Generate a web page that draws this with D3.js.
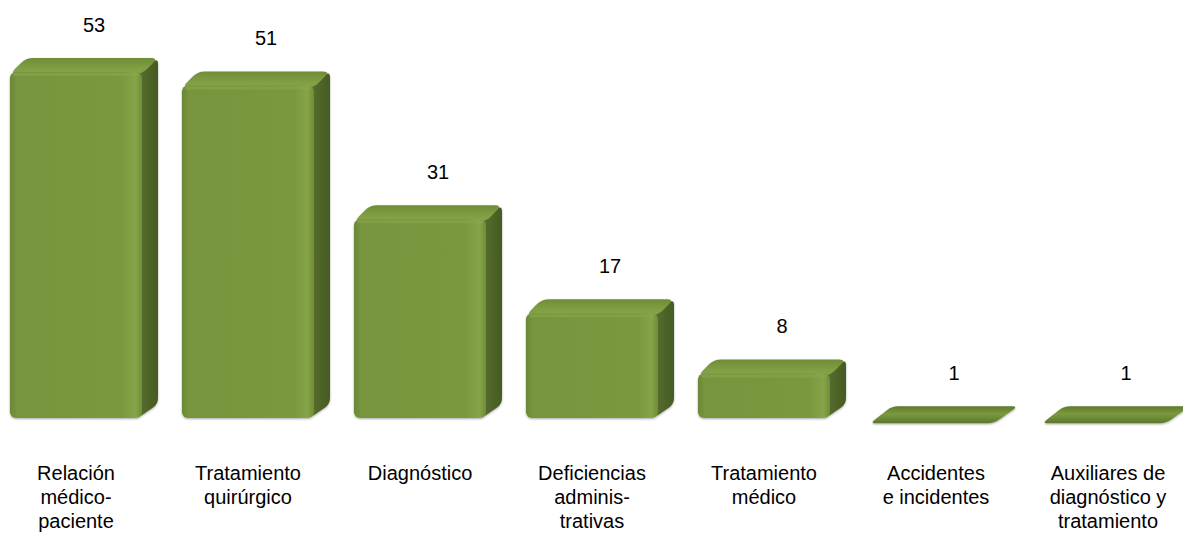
<!DOCTYPE html>
<html>
<head>
<meta charset="utf-8">
<script src="https://cdn.jsdelivr.net/npm/d3@7"></script>
<style>
  html, body { margin: 0; padding: 0; background: #fff; }
  svg { display: block; }
  text { font-family: "Liberation Sans", Arial, sans-serif; fill: #000; }
</style>
</head>
<body>
<div id="chart"></div>
<script>
"use strict"

// chart data
let categories = [
  "Relación médico-paciente",
  "Tratamiento quirúrgico",
  "Diagnóstico",
  "Deficiencias adminis-trativas",
  "Tratamiento médico",
  "Accidentes e incidentes",
  "Auxiliares de diagnóstico y tratamiento"
];
let categoryLines = [
  ["Relación", "médico-", "paciente"],
  ["Tratamiento", "quirúrgico"],
  ["Diagnóstico"],
  ["Deficiencias", "adminis-", "trativas"],
  ["Tratamiento", "médico"],
  ["Accidentes", "e incidentes"],
  ["Auxiliares de", "diagnóstico y", "tratamiento"]
];
let values = [53, 51, 31, 17, 8, 1, 1];

let width = 1183, height = 533;
let depthX = 16, depthY = 14;
let floorY = 418;

let svg = d3.select("#chart").append("svg")
  .attr("width", width)
  .attr("height", height);

let defs = svg.append("defs");

let frontGrad = defs.append("linearGradient")
  .attr("id", "frontGrad")
  .attr("x1", "0%").attr("x2", "100%").attr("y1", "0%").attr("y2", "0%");
frontGrad.append("stop").attr("offset", "0%").attr("stop-color", "#6a8734");
frontGrad.append("stop").attr("offset", "5%").attr("stop-color", "#77953c");
frontGrad.append("stop").attr("offset", "85%").attr("stop-color", "#7a983e");
frontGrad.append("stop").attr("offset", "95%").attr("stop-color", "#86a548");
frontGrad.append("stop").attr("offset", "100%").attr("stop-color", "#6f8c37");

let topGrad = defs.append("linearGradient")
  .attr("id", "topGrad")
  .attr("x1", "0%").attr("x2", "0%").attr("y1", "0%").attr("y2", "100%");
topGrad.append("stop").attr("offset", "0%").attr("stop-color", "#6f8c38");
topGrad.append("stop").attr("offset", "60%").attr("stop-color", "#7f9e42");
topGrad.append("stop").attr("offset", "100%").attr("stop-color", "#87a64a");

let sideGrad = defs.append("linearGradient")
  .attr("id", "sideGrad")
  .attr("x1", "0%").attr("x2", "100%").attr("y1", "0%").attr("y2", "0%");
sideGrad.append("stop").attr("offset", "0%").attr("stop-color", "#587030");
sideGrad.append("stop").attr("offset", "100%").attr("stop-color", "#465a22");

let flatGrad = defs.append("linearGradient")
  .attr("id", "flatGrad")
  .attr("x1", "0%").attr("x2", "0%").attr("y1", "0%").attr("y2", "100%");
flatGrad.append("stop").attr("offset", "0%").attr("stop-color", "#5f7a2e");
flatGrad.append("stop").attr("offset", "45%").attr("stop-color", "#7a9a3e");
flatGrad.append("stop").attr("offset", "100%").attr("stop-color", "#5d772c");

let shadow = defs.append("filter")
  .attr("id", "shadow")
  .attr("x", "-10%").attr("y", "-10%").attr("width", "120%").attr("height", "120%");
shadow.append("feGaussianBlur").attr("in", "SourceAlpha").attr("stdDeviation", 1.2).attr("result", "blur");
shadow.append("feOffset").attr("in", "blur").attr("dx", 0).attr("dy", 1).attr("result", "off");
shadow.append("feComponentTransfer").attr("in", "off").attr("result", "soft")
  .append("feFuncA").attr("type", "linear").attr("slope", 0.35);
let merge = shadow.append("feMerge");
merge.append("feMergeNode").attr("in", "soft");
merge.append("feMergeNode").attr("in", "SourceGraphic");

let x = d3.scaleBand()
  .domain(categories)
  .range([-2, 1202])
  .paddingInner(24 / 172)
  .paddingOuter(12 / 172);

let y = d3.scaleLinear()
  .domain([0, 53])
  .range([427, 72]);

let data = categories.map((c, i) => ({ cat: c, value: values[i], lines: categoryLines[i] }));

let bars = svg.append("g").selectAll("g.bar")
  .data(data)
  .enter().append("g")
  .attr("class", "bar")
  .attr("filter", "url(#shadow)");

function roundedPoly(pts, r) {
  // polygon with softened corners
  let path = "";
  let n = pts.length;
  for (let i = 0; i < n; i++) {
    let p0 = pts[(i - 1 + n) % n], p1 = pts[i], p2 = pts[(i + 1) % n];
    let d1 = Math.hypot(p1[0] - p0[0], p1[1] - p0[1]);
    let d2 = Math.hypot(p2[0] - p1[0], p2[1] - p1[1]);
    let r1 = Math.min(r, d1 / 2), r2 = Math.min(r, d2 / 2);
    let a = [p1[0] + (p0[0] - p1[0]) * r1 / d1, p1[1] + (p0[1] - p1[1]) * r1 / d1];
    let b = [p1[0] + (p2[0] - p1[0]) * r2 / d2, p1[1] + (p2[1] - p1[1]) * r2 / d2];
    path += (i === 0 ? "M" : "L") + a[0] + "," + a[1] + "Q" + p1[0] + "," + p1[1] + " " + b[0] + "," + b[1];
  }
  return path + "Z";
}

bars.each(function(d) {
  let g = d3.select(this);
  let x0 = x(d.cat);
  let fw = x.bandwidth() - depthX;
  let top = y(d.value);
  let bottom = Math.max(floorY, top + 2);

  if (bottom - top > 6) {
    // side face
    g.append("path")
      .attr("d", roundedPoly([
        [x0 + fw - 4, top], [x0 + fw + depthX, top - depthY],
        [x0 + fw + depthX, bottom - depthY], [x0 + fw - 4, bottom]
      ], 6))
      .attr("fill", "url(#sideGrad)");
    // top face
    g.append("path")
      .attr("d", roundedPoly([
        [x0, top + 2], [x0 + depthX, top - depthY],
        [x0 + fw + depthX, top - depthY], [x0 + fw, top + 2]
      ], 7))
      .attr("fill", "url(#topGrad)");
    // front face
    g.append("rect")
      .attr("x", x0)
      .attr("y", top)
      .attr("width", fw)
      .attr("height", bottom - top)
      .attr("rx", 6)
      .attr("fill", "url(#frontGrad)");
    // soft top highlight of the front
    g.append("rect")
      .attr("x", x0 + 3)
      .attr("y", top + 1)
      .attr("width", fw - 6)
      .attr("height", 3)
      .attr("rx", 1.5)
      .attr("fill", "#88a64c")
      .attr("opacity", 0.6);
  } else {
    // nearly flat bar: only the slab is visible
    g.append("path")
      .attr("d", roundedPoly([
        [x0, bottom + 1], [x0 + depthX + 6, top - depthY],
        [x0 + fw + depthX, top - depthY], [x0 + fw - 8, bottom + 1]
      ], 6))
      .attr("fill", "url(#flatGrad)");
  }
});

// value labels
svg.append("g").selectAll("text.value")
  .data(data)
  .enter().append("text")
  .attr("class", "value")
  .attr("x", d => x(d.cat) + x.bandwidth() / 2 + 10)
  .attr("y", d => y(d.value) - depthY - 26)
  .attr("text-anchor", "middle")
  .style("font-size", "20px")
  .text(d => d.value);

// category labels
let labels = svg.append("g").selectAll("text.cat")
  .data(data)
  .enter().append("text")
  .attr("class", "cat")
  .attr("text-anchor", "middle")
  .attr("transform", d => "translate(" + (x(d.cat) + (x.bandwidth() - depthX) / 2) + ",480)")
  .style("font-size", "20px");

labels.selectAll("tspan")
  .data(d => d.lines)
  .enter().append("tspan")
  .attr("x", 0)
  .attr("dy", (l, i) => i === 0 ? 0 : 24)
  .text(l => l);
</script>
</body>
</html>
